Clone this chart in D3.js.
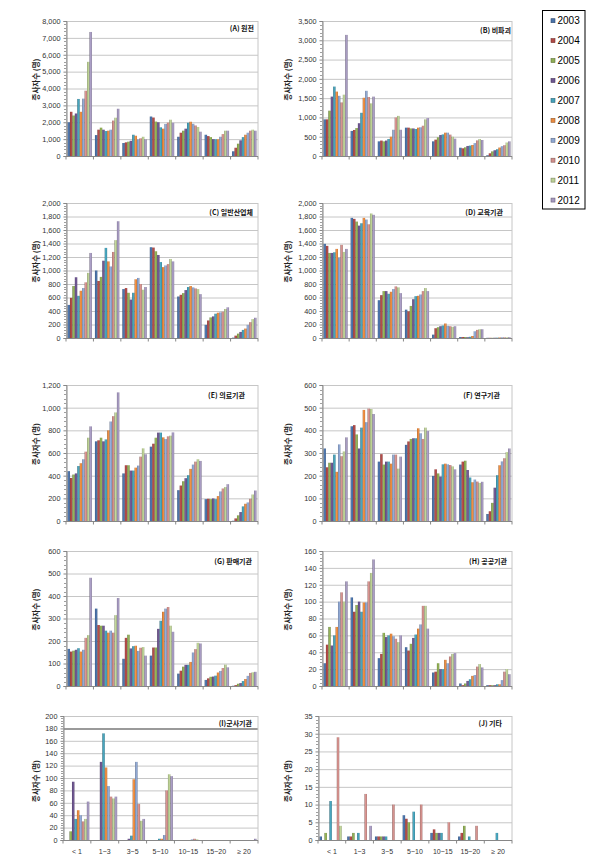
<!DOCTYPE html>
<html><head><meta charset="utf-8">
<script src="https://cdn.jsdelivr.net/npm/d3@7"></script>
<style>body{margin:0;background:#fff} svg{display:block}</style>
</head><body>
<svg id="c" width="600" height="864"></svg>
<script>
// ---------------- DATA ----------------
const years = ["2003","2004","2005","2006","2007","2008","2009","2010","2011","2012"];
const categories = ["< 1","1~3","3~5","5~10","10~15","15~20","≥ 20"];
const yTitle = "종사자수 (명)";

// each array: 7 categories x 10 years
const valuesA = [
  [2000,2620,2400,2520,3380,2620,3400,3870,5580,7350],
  [1240,1560,1680,1560,1480,1500,1560,2100,2270,2800],
  [770,810,850,900,1260,1200,990,1050,1140,990],
  [2340,2280,2040,2000,1700,1620,1900,1980,2150,1970],
  [1140,1380,1500,1620,1970,2030,1910,1810,1720,1440],
  [1260,1180,1120,1000,990,990,1140,1300,1500,1500],
  [280,490,730,930,1120,1260,1380,1500,1560,1500]
];
const valuesB = [
  [950,950,1175,1540,1800,1670,1560,1390,1590,3140],
  [650,675,725,850,1120,1510,1690,1530,1365,1540],
  [380,400,380,400,440,500,680,1000,1040,680],
  [735,735,715,715,700,735,745,785,950,985],
  [380,425,485,545,560,605,605,555,500,450],
  [215,200,225,260,270,285,335,405,440,415],
  [20,70,120,150,175,220,255,280,350,380]
];
const valuesC = [
  [490,595,770,900,625,700,740,825,965,1260],
  [1000,845,905,1145,1335,1135,1060,1275,1450,1730],
  [725,740,670,570,670,870,890,800,715,755],
  [1345,1340,1285,1230,1125,1050,1075,1095,1170,1135],
  [615,640,665,710,755,770,750,735,725,650],
  [195,260,305,320,360,375,380,390,430,455],
  [5,35,65,90,120,140,195,235,280,300]
];
const valuesD = [
  [1395,1365,1260,1260,1270,1320,1190,1380,1275,1320],
  [1780,1765,1725,1665,1700,1780,1755,1685,1845,1825],
  [560,635,695,695,655,685,725,765,750,665],
  [420,395,475,575,620,625,645,695,740,695],
  [50,145,160,175,185,215,180,175,165,175],
  [15,15,15,12,18,30,100,120,130,130],
  [3,3,3,4,5,8,10,10,10,12]
];
const valuesE = [
  [440,380,410,420,485,510,545,612,735,835],
  [703,712,735,703,720,800,878,925,958,1135],
  [420,492,492,445,445,471,489,568,641,589],
  [656,682,735,780,780,738,723,747,753,782],
  [272,313,351,378,404,460,498,524,545,530],
  [193,196,193,199,193,220,261,287,299,325],
  [2,23,50,79,129,152,164,196,234,269]
];
const valuesF = [
  [320,237,257,257,293,217,338,286,307,369],
  [418,423,382,320,412,490,436,496,494,472],
  [262,295,249,262,262,253,293,293,231,284],
  [336,351,362,365,365,409,387,362,412,397],
  [199,228,210,196,250,253,250,247,241,228],
  [249,262,266,225,192,171,183,174,168,173],
  [31,43,80,147,202,246,263,277,304,320]
];
const valuesG = [
  [165,153,157,161,168,153,161,214,226,481],
  [344,271,268,268,246,237,246,237,315,391],
  [121,214,228,167,177,179,156,170,173,135],
  [135,171,171,254,290,330,344,351,268,241],
  [55,68,86,94,94,107,149,164,192,189],
  [27,34,41,42,46,60,67,80,95,83],
  [1,4,10,13,22,31,45,58,61,63]
];
const valuesH = [
  [27,49,70,48,60,70,100,111,100,124],
  [105,88,96,100,88,99,99,124,134,150],
  [33,38,63,58,60,62,59,56,52,60],
  [46,42,50,57,61,68,73,95,95,68],
  [16,17,27,20,20,31,27,35,38,39],
  [3,1,3,6,8,12,13,23,26,22],
  [1,1,1,1,2,2,7,17,20,14]
];
const valuesI = [
  [0,0,14,94,34,48,40,30,34,62],
  [0,0,0,126,172,117,87,70,67,70],
  [0,0,0,2,7,98,126,58,31,34],
  [0,0,0,0,2,2,8,80,106,103],
  [0,0,0,0,0,0,1,2,1,0],
  [0,0,0,0,0,0,0,0,0,0],
  [0,0,0,0,0,0,0,0,0,2]
];
const valuesJ = [
  [1,0,2,0,11,0,0,29,4,0],
  [1,1,2,0,2,0,0,13,0,4],
  [1,1,1,1,1,0,0,10,0,0],
  [7,6,5,0,8,0,0,10,0,0],
  [2,3,2,2,2,0,0,5,0,0],
  [1,2,4,0,1,0,0,4,0,0],
  [0,0,0,0,2,0,0,0,0,0]
];

const ticksA = [0,1000,2000,3000,4000,5000,6000,7000,8000];
const ticksB = [0,500,1000,1500,2000,2500,3000,3500];
const ticksC = [0,200,400,600,800,1000,1200,1400,1600,1800,2000];
const ticksD = [0,200,400,600,800,1000,1200,1400,1600,1800,2000];
const ticksE = [0,200,400,600,800,1000,1200];
const ticksF = [0,100,200,300,400,500,600];
const ticksG = [0,100,200,300,400,500,600];
const ticksH = [0,20,40,60,80,100,120,140,160];
const ticksI = [0,20,40,60,80,100,120,140,160,180,200];
const ticksJ = [0,5,10,15,20,25,30,35];

const titles = ["(A) 원전","(B) 비파괴","(C) 일반산업체","(D) 교육기관","(E) 의료기관","(F) 연구기관","(G) 판매기관","(H) 공공기관","(I)군사기관","(J) 기타"];

// ---------------- STYLE / LAYOUT ----------------
const colors = ["#4A72A8","#B04A47","#8FAD54","#6E5690","#45A0B8","#E88A40","#8EA6D0","#D08E8A","#BBCF94","#A498BE"];
const layout = [
  {x0:66,x1:258,top:21,bot:156,tx:254,ty:28.5},
  {x0:322,x1:512,top:21,bot:156,tx:511,ty:30},
  {x0:66,x1:258,top:203,bot:338,tx:253,ty:212.7},
  {x0:322,x1:512,top:203,bot:338,tx:503,ty:212.7},
  {x0:66,x1:258,top:385,bot:521,tx:245,ty:395.7},
  {x0:322,x1:512,top:385,bot:521,tx:500,ty:395.7},
  {x0:66,x1:258,top:551,bot:686,tx:252,ty:561.7},
  {x0:322,x1:512,top:551,bot:686,tx:507,ty:561.7},
  {x0:63,x1:258,top:716,bot:840,tx:252,ty:723.3},
  {x0:318,x1:512,top:716,bot:840,tx:502,ty:723.3}
];
const panelValues = [valuesA,valuesB,valuesC,valuesD,valuesE,valuesF,valuesG,valuesH,valuesI,valuesJ];
const panelTicks = [ticksA,ticksB,ticksC,ticksD,ticksE,ticksF,ticksG,ticksH,ticksI,ticksJ];

const svg = d3.select("#c");
const defs = svg.append("defs");
colors.forEach((c,i)=>{
  const g = defs.append("linearGradient").attr("id","g"+i).attr("x1","0").attr("x2","1").attr("y1","0").attr("y2","0");
  g.append("stop").attr("offset","0%").attr("stop-color",d3.color(c).darker(1.2));
  g.append("stop").attr("offset","35%").attr("stop-color",d3.color(c).brighter(0.15));
  g.append("stop").attr("offset","70%").attr("stop-color",c);
  g.append("stop").attr("offset","100%").attr("stop-color",d3.color(c).darker(0.7));
});

const fmt = d3.format(",");
const gridColor = "#c6c6c6";
const axisColor = "#878787";

panelValues.forEach((vals,pi)=>{
  const L = layout[pi];
  const ticks = panelTicks[pi];
  const g = svg.append("g");
  const y = d3.scaleLinear().domain([0, d3.max(ticks)]).range([L.bot, L.top]);
  const x = d3.scaleBand().domain(categories).range([L.x0, L.x1]).paddingInner(0.11).paddingOuter(0.055);
  const xs = d3.scaleBand().domain(years).range([0, x.bandwidth()]);

  const grid = g.append("g").attr("transform",`translate(${L.x0},0)`)
    .call(d3.axisLeft(y).tickValues(ticks).tickSize(-(L.x1-L.x0)).tickFormat(""));
  grid.select(".domain").remove();
  grid.selectAll("line").attr("stroke",gridColor).attr("stroke-width",1);
  if (pi===8) grid.selectAll("line").filter(d=>d===180).attr("stroke","#9a9a9a").attr("stroke-width",2);

  g.append("rect").attr("x",L.x0+0.5).attr("y",L.top+0.5).attr("width",L.x1-L.x0-0.5).attr("height",L.bot-L.top)
    .attr("fill","none").attr("stroke",gridColor);

  vals.forEach((row,ci)=>{
    row.forEach((v,yi)=>{
      if (v<=0) return;
      g.append("rect")
        .attr("x", x(categories[ci]) + xs(years[yi]))
        .attr("width", xs.bandwidth())
        .attr("y", y(v))
        .attr("height", Math.max(0.6, L.bot - y(v)))
        .attr("fill", `url(#g${yi})`);
    });
  });

  const step = ticks[1]-ticks[0];
  const minor = [];
  for (let k=0;k<ticks.length-1;k++) for (let m=1;m<5;m++) minor.push(ticks[k]+step*m/5);
  g.selectAll(null).data(minor).enter().append("line")
    .attr("x1",L.x0-2).attr("x2",L.x0).attr("y1",d=>Math.round(y(d))+0.5).attr("y2",d=>Math.round(y(d))+0.5)
    .attr("stroke",axisColor).attr("stroke-width",0.8);

  const ya = g.append("g").attr("transform",`translate(${L.x0+0.5},0)`)
    .call(d3.axisLeft(y).tickValues(ticks).tickSize(3).tickPadding(3).tickFormat(fmt));
  ya.select(".domain").attr("stroke",axisColor);
  ya.selectAll("line").attr("stroke",axisColor);
  ya.selectAll("text").attr("font-family","Liberation Sans, Arial, sans-serif").attr("font-size","7.3px").attr("fill","#333");

  const xa = g.append("g").attr("transform",`translate(0,${L.bot+0.5})`);
  xa.append("line").attr("x1",L.x0).attr("x2",L.x1).attr("stroke",axisColor);
  const bounds = categories.map(c=>x(c)-x.step()*x.paddingInner()/2).concat([L.x1]);
  xa.selectAll(null).data(bounds).enter().append("line")
    .attr("x1",d=>d).attr("x2",d=>d).attr("y1",0).attr("y2",3).attr("stroke",axisColor);
  if (pi>=8) {
    xa.selectAll(null).data(categories).enter().append("text")
      .attr("x",d=>x(d)+x.bandwidth()/2).attr("y",13)
      .attr("text-anchor","middle").attr("font-family","Liberation Sans, Arial, sans-serif")
      .attr("font-size","7px").attr("fill","#333").text(d=>d);
  }

  const tx = pi%2===0 ? 36 : 288;
  const tyc = (L.top+L.bot)/2 + (pi>=8 ? 3 : -9);
  g.append("text").attr("transform",`translate(${tx+2.5},${tyc}) rotate(-90)`)
    .attr("text-anchor","middle").attr("font-family","Noto Sans CJK KR, sans-serif")
    .attr("font-size","7.5px").attr("font-weight","bold").attr("fill","#222").text(yTitle);

  g.append("text").attr("x",L.tx).attr("y",L.ty+2.5).attr("text-anchor","end")
    .attr("font-family","Noto Sans CJK KR, sans-serif").attr("font-size","7px").attr("font-weight","bold")
    .attr("fill","#111").text(titles[pi]);
});

// legend
const lg = svg.append("g");
lg.append("rect").attr("x",542.5).attr("y",10.5).attr("width",42.5).attr("height",198.5)
  .attr("fill","#fff").attr("stroke","#000").attr("stroke-width",1);
years.forEach((yr,i)=>{
  const cy = 20.7 + i*19.93;
  lg.append("rect").attr("x",551).attr("y",cy-2).attr("width",4).attr("height",4)
    .attr("fill",colors[i]).attr("stroke",d3.color(colors[i]).darker(1.2)).attr("stroke-width",0.6);
  lg.append("text").attr("x",557.5).attr("y",cy+3.5).attr("font-family","Liberation Sans, Arial, sans-serif")
    .attr("font-size","10px").attr("fill","#000").text(yr);
});
</script>
</body></html>
